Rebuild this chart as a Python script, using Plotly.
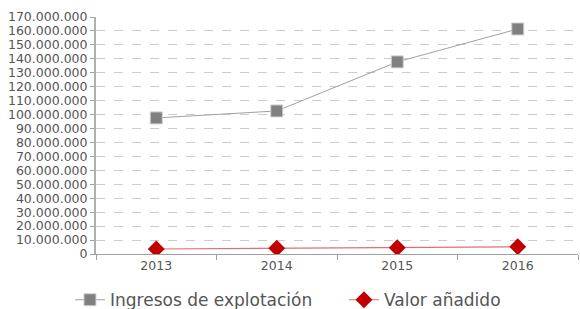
import plotly.graph_objects as go

years = ["2013", "2014", "2015", "2016"]
ingresos = [97600000, 102600000, 137800000, 161400000]
valor = [3600000, 4100000, 4500000, 5200000]
ytick_vals = list(range(0, 170000001, 10000000))

fig = go.Figure()
fig.add_trace(go.Scatter(
    x=years, y=ingresos, name="Ingresos de explotación", mode="lines+markers",
    line=dict(color="#a0a0a0", width=1),
    marker=dict(symbol="square", size=12, color="#808080", line=dict(color="#d0d0d0", width=1)),
))
fig.add_trace(go.Scatter(
    x=years, y=valor, name="Valor añadido", mode="lines+markers",
    line=dict(color="#e07070", width=1.2),
    marker=dict(symbol="diamond", size=13, color="#c00000", line=dict(color="#c00000", width=0)),
))

fig.update_layout(
    width=580, height=309,
    margin=dict(l=96, r=2, t=17, b=55, autoexpand=False),
    paper_bgcolor="white", plot_bgcolor="white",
    separators=",.",
    font=dict(family="DejaVu Sans", color="#555555", size=12.5),
    showlegend=True,
    legend=dict(orientation="h", x=-0.054, xanchor="left", y=-0.195, yanchor="middle",
                entrywidth=229, entrywidthmode="pixels",
                font=dict(size=17, color="#555555"), tracegroupgap=0),
)
fig.update_xaxes(
    type="category", range=[-0.5, 3.5], showline=True, linecolor="#a0a0a0", linewidth=1,
    ticks="outside", tickson="boundaries", ticklen=5, tickcolor="#a0a0a0",
    showgrid=False, tickfont=dict(size=12.5, color="#555555"), automargin=False,
)
fig.update_yaxes(
    range=[0, 170000000], tickvals=ytick_vals, tickformat=",d",
    showline=True, linecolor="#b0b0b0", linewidth=2,
    ticks="outside", ticklen=4, tickcolor="#a0a0a0",
    showgrid=True, gridcolor="#cccccc", griddash="dash", gridwidth=1,
    zeroline=False, tickfont=dict(size=12.5, color="#555555"), automargin=False,
)
fig.write_html("out.html", config={"displayModeBar": False},
               post_script="document.body.style.margin='0';document.body.style.padding='0';")
